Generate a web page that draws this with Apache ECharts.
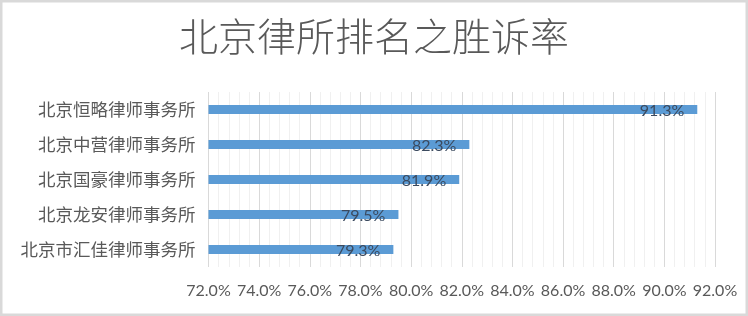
<!DOCTYPE html>
<html>
<head>
<meta charset="utf-8">
<script src="https://cdn.jsdelivr.net/npm/echarts@6/dist/echarts.min.js"></script>
<style>
  html, body { margin: 0; padding: 0; background: #ffffff; }
  #chart { width: 748px; height: 316px; }
</style>
</head>
<body>
<div id="chart"></div>
<script>
// Win rate of Beijing law firms (percent), listed top to bottom
const firms = ['北京恒略律师事务所', '北京中营律师事务所', '北京国豪律师事务所', '北京龙安律师事务所', '北京市汇佳律师事务所'];
const winRates = [91.3, 82.3, 81.9, 79.5, 79.3];
const axisMin = 72;
const axisMax = 92;
const axisStep = 2;

const chart = echarts.init(document.getElementById('chart'), null, { renderer: 'canvas' });

chart.setOption({
  backgroundColor: '#ffffff',
  animation: false,
  title: {
    text: '北京律所排名之胜诉率',
    left: 'center',
    top: 12,
    textStyle: {
      fontFamily: '"Noto Sans CJK SC", sans-serif',
      fontSize: 39,
      fontWeight: 300,
      color: '#595959'
    }
  },
  graphic: [{
    type: 'rect',
    shape: { x: 0, y: 0, width: 748, height: 316 },
    style: { fill: 'none', stroke: '#d9d9d9', lineWidth: 5 },
    silent: true,
    z: 100
  }],
  grid: {
    left: 208.5,
    right: 33,
    top: 92,
    height: 175,
    containLabel: false
  },
  xAxis: {
    type: 'value',
    min: axisMin,
    max: axisMax,
    interval: axisStep,
    axisLine: { show: false },
    axisTick: { show: false },
    axisLabel: {
      formatter: v => v.toFixed(1) + '%',
      fontFamily: 'Lato, "Open Sans", sans-serif',
      fontSize: 16,
      color: '#595959',
      margin: 16
    },
    splitLine: { show: true, lineStyle: { color: '#d9d9d9', width: 1 } },
    minorTick: { show: false, splitNumber: 5 },
    minorSplitLine: { show: true, lineStyle: { color: '#f0f0f0', width: 1 } }
  },
  yAxis: {
    type: 'category',
    data: firms,
    inverse: true,
    axisLine: { show: false },
    axisTick: { show: false },
    axisLabel: {
      fontFamily: '"Noto Sans CJK SC", sans-serif',
      fontSize: 17.5,
      color: '#595959',
      margin: 13
    }
  },
  series: [{
    type: 'bar',
    data: winRates,
    barWidth: 9,
    itemStyle: { color: '#5b9bd5' },
    label: {
      show: true,
      position: 'insideRight',
      distance: 13,
      offset: [0, 1],
      formatter: p => p.value.toFixed(1) + '%',
      fontFamily: 'Lato, "Open Sans", sans-serif',
      fontSize: 16,
      color: '#3b4a5f'
    }
  }]
});
</script>
</body>
</html>
